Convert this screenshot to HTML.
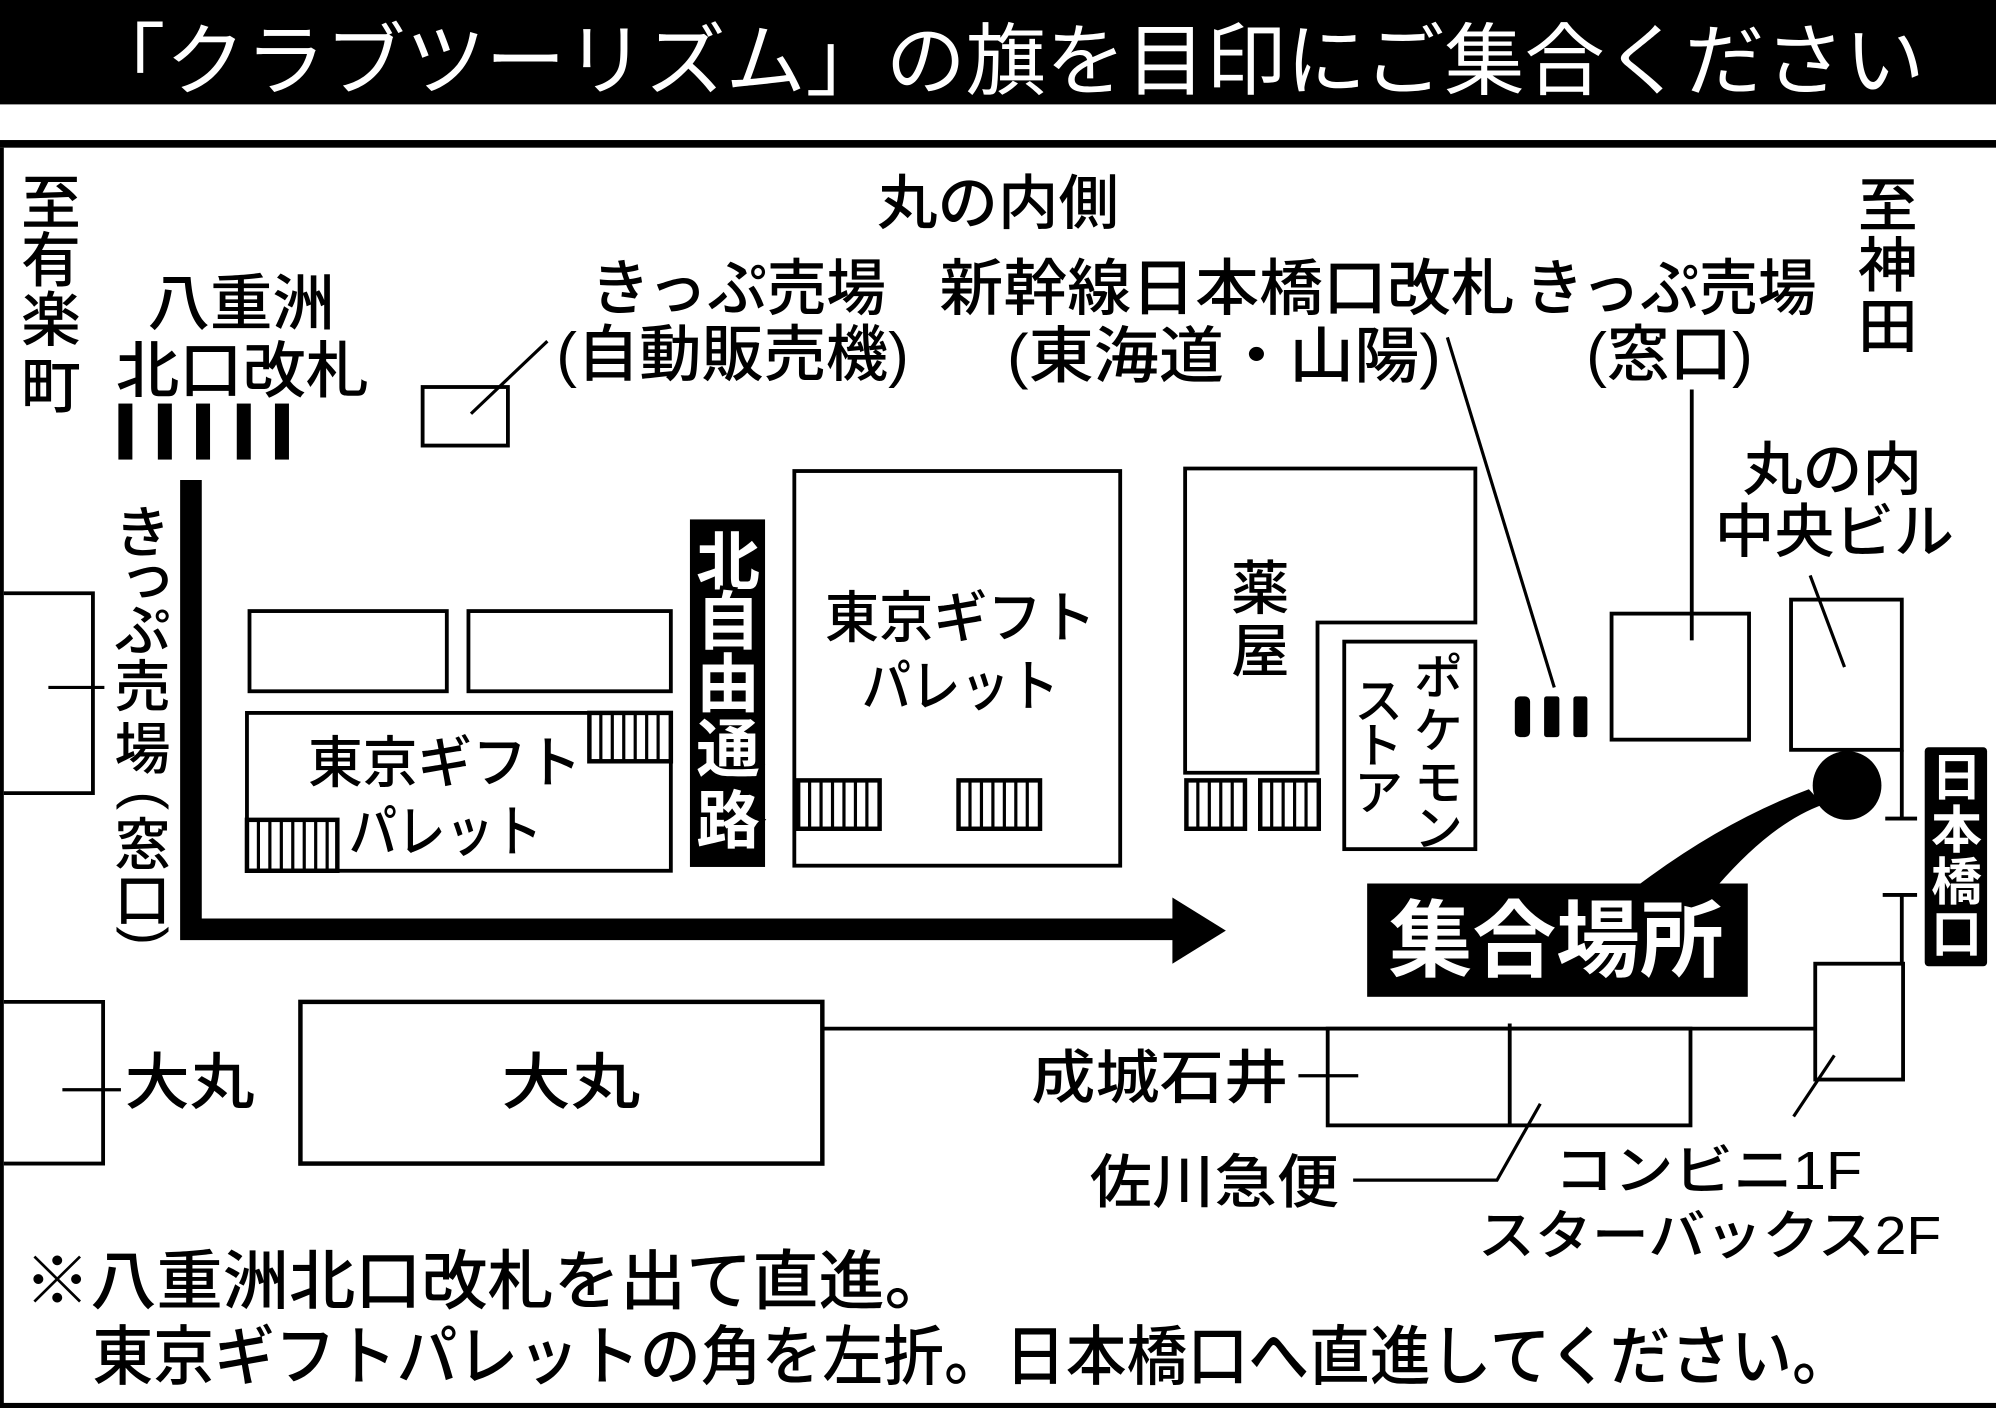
<!DOCTYPE html>
<html><head><meta charset="utf-8">
<style>
html,body{margin:0;padding:0;background:#fff;width:1996px;height:1408px;overflow:hidden}
svg{display:block}
text{font-family:"Liberation Sans","Noto Sans CJK JP",sans-serif;font-weight:500;fill:#000}
</style></head>
<body>
<svg width="1996" height="1408" viewBox="0 0 1568 1106" preserveAspectRatio="none" xmlns="http://www.w3.org/2000/svg">
<rect x="0" y="0" width="1568" height="1106" fill="#fff"/>
<!-- title -->
<rect x="0" y="0" width="1568" height="82" fill="#000"/>
<text x="67" y="69.6" font-size="62" textLength="1445" lengthAdjust="spacingAndGlyphs" style="fill:#fff;font-weight:400">「クラブツーリズム」の旗を目印にご集合ください</text>
<rect x="0" y="110" width="1568" height="6" fill="#000"/>
<!-- frame -->
<rect x="0" y="116" width="3" height="990" fill="#000"/>
<rect x="0" y="1102" width="1568" height="4" fill="#000"/>

<g stroke="#000" stroke-width="3" fill="none">
  <!-- left boxes -->
  <path d="M3,466 H73 V623 H3"/>
  <line x1="38" y1="540" x2="82" y2="540" stroke-width="2.5"/>
  <path d="M3,787 H81 V914 H3"/>
  <line x1="49" y1="856" x2="95" y2="856" stroke-width="2.5"/>
  <!-- ticket machine -->
  <rect x="332" y="304" width="67" height="46"/>
  <line x1="370" y1="325" x2="430" y2="268" stroke-width="2.5"/>
  <!-- small boxes -->
  <rect x="196" y="480" width="155" height="63"/>
  <rect x="368" y="480" width="159" height="63"/>
  <!-- small TGP -->
  <rect x="194" y="560" width="333" height="124"/>
  <!-- big TGP -->
  <rect x="624" y="370" width="256" height="310"/>
  <!-- drugstore -->
  <path d="M931,368 H1159 V489 H1035 V607 H931 Z"/>
  <!-- pokemon -->
  <rect x="1056" y="504" width="103" height="163"/>
  <!-- right leaders & boxes -->
  <line x1="1137" y1="265" x2="1221" y2="540" stroke-width="2.5"/>
  <line x1="1329" y1="306" x2="1329" y2="503" stroke-width="3"/>
  <rect x="1266" y="482" width="108" height="99"/>
  <line x1="1422" y1="452" x2="1449" y2="524" stroke-width="2.5"/>
  <rect x="1407" y="471" width="87" height="118"/>
  <line x1="1494" y1="589" x2="1494" y2="643"/>
  <line x1="1481" y1="643" x2="1506" y2="643"/>
  <line x1="1479" y1="703" x2="1506" y2="703"/>
  <line x1="1494" y1="703" x2="1494" y2="757"/>
  <rect x="1426" y="757" width="69" height="91"/>
  <!-- Daimaru -->
  <rect x="236" y="787" width="410" height="127" stroke-width="3.5"/>
  <line x1="646" y1="808" x2="1427" y2="808"/>
  <rect x="1043" y="808" width="285" height="76"/>
  <line x1="1186" y1="804" x2="1186" y2="884"/>
  <line x1="1020" y1="845" x2="1067" y2="845" stroke-width="2.5"/>
  <polyline points="1063,927 1176,927 1210,867" stroke-width="2.5"/>
  <line x1="1441" y1="829" x2="1409" y2="877" stroke-width="2.5"/>
</g>

<!-- hatched boxes -->
<g stroke="#000" fill="none">
  <rect x="463" y="560" width="64" height="38" stroke-width="3.5"/>
  <path d="M472,560V598M481,560V598M490,560V598M499,560V598M508,560V598M517,560V598" stroke-width="2.5"/>
  <rect x="194" y="644" width="71" height="40" stroke-width="3.5"/>
  <path d="M203,644V684M212,644V684M221,644V684M230,644V684M239,644V684M248,644V684M257,644V684" stroke-width="2.5"/>
  <rect x="627" y="613" width="64" height="38" stroke-width="3.5"/>
  <path d="M636,613V651M645,613V651M654,613V651M663,613V651M672,613V651M681,613V651" stroke-width="2.5"/>
  <rect x="753" y="613" width="64" height="38" stroke-width="3.5"/>
  <path d="M762,613V651M771,613V651M780,613V651M789,613V651M798,613V651M807,613V651" stroke-width="2.5"/>
  <rect x="932" y="613" width="46" height="38" stroke-width="3.5"/>
  <path d="M941,613V651M950,613V651M959,613V651M968,613V651" stroke-width="2.5"/>
  <rect x="990" y="613" width="46" height="38" stroke-width="3.5"/>
  <path d="M999,613V651M1008,613V651M1017,613V651M1026,613V651" stroke-width="2.5"/>
</g>

<!-- gate bars -->
<g fill="#000">
  <rect x="93" y="317" width="11" height="44"/>
  <rect x="124" y="317" width="11" height="44"/>
  <rect x="154" y="317" width="11" height="44"/>
  <rect x="186" y="317" width="11" height="44"/>
  <rect x="216" y="317" width="11" height="44"/>
  <rect x="1190" y="547" width="12" height="32" rx="4"/>
  <rect x="1213" y="547" width="12" height="32" rx="2"/>
  <rect x="1236" y="547" width="11" height="32" rx="2"/>
</g>

<!-- thick route arrow -->
<polyline points="150,377 150,730 925,730" fill="none" stroke="#000" stroke-width="17" stroke-linejoin="miter"/>
<polygon points="921,705 963,731 921,757" fill="#000"/>

<!-- meeting point -->
<circle cx="1451" cy="617" r="27" fill="#000"/>
<path d="M1421,620 Q1353.5,645 1286,696 L1349,696 Q1392.5,646 1432,632 Z" fill="#000"/>
<rect x="1074" y="694" width="299" height="89" fill="#000"/>
<text x="1091" y="762" font-size="66" textLength="263" lengthAdjust="spacingAndGlyphs" style="fill:#fff;font-weight:700">集合場所</text>

<!-- 日本橋口 -->
<rect x="1512" y="587" width="49" height="172" rx="3" fill="#000"/>
<g text-anchor="middle" font-size="40" style="fill:#fff;font-weight:700">
  <text x="1537" y="625" style="fill:#fff;font-weight:700">日</text>
  <text x="1537" y="666" style="fill:#fff;font-weight:700">本</text>
  <text x="1537" y="707" style="fill:#fff;font-weight:700">橋</text>
  <text x="1537" y="748" style="fill:#fff;font-weight:700">口</text>
</g>

<!-- 北自由通路 -->
<rect x="542" y="408" width="59" height="273" fill="#000"/>
<g text-anchor="middle" font-size="50">
  <text x="572" y="459" stroke="#000" stroke-width="6" paint-order="stroke" style="fill:#fff;font-weight:700">北</text>
  <text x="572" y="506" stroke="#000" stroke-width="6" paint-order="stroke" style="fill:#fff;font-weight:700">自</text>
  <text x="572" y="555" stroke="#000" stroke-width="6" paint-order="stroke" style="fill:#fff;font-weight:700">由</text>
  <text x="572" y="606" stroke="#000" stroke-width="6" paint-order="stroke" style="fill:#fff;font-weight:700">通</text>
  <text x="572" y="662" stroke="#000" stroke-width="6" paint-order="stroke" style="fill:#fff;font-weight:700">路</text>
</g>

<!-- vertical labels -->
<g text-anchor="middle" font-size="47">
  <text x="40" y="176">至</text>
  <text x="40" y="221">有</text>
  <text x="40" y="268">楽</text>
  <text x="40" y="320">町</text>
  <text x="1483" y="178">至</text>
  <text x="1483" y="225">神</text>
  <text x="1483" y="273">田</text>
</g>
<g text-anchor="middle" font-size="44">
  <text x="112" y="434">き</text>
  <text x="116" y="468">っ</text>
  <text x="112" y="511">ぷ</text>
  <text x="112" y="555">売</text>
  <text x="112" y="604">場</text>
  <text x="112" y="640.4" transform="rotate(90 112 629)">(</text>
  <text x="112" y="679">窓</text>
  <text x="112" y="723">口</text>
  <text x="112" y="746.4" transform="rotate(90 112 735)">)</text>
</g>
<g text-anchor="middle" font-size="46">
  <text x="990" y="478.5">薬</text>
  <text x="990" y="527.5">屋</text>
</g>
<g text-anchor="middle" font-size="38">
  <text x="1130" y="545">ポ</text>
  <text x="1130" y="587">ケ</text>
  <text x="1130" y="628">モ</text>
  <text x="1130" y="664">ン</text>
  <text x="1083" y="564">ス</text>
  <text x="1083" y="599">ト</text>
  <text x="1083" y="636">ア</text>
</g>

<!-- horizontal labels -->
<g lengthAdjust="spacingAndGlyphs">
  <text x="689" y="176" font-size="47" textLength="190" lengthAdjust="spacingAndGlyphs">丸の内側</text>
  <text x="116" y="255" font-size="48" textLength="147" lengthAdjust="spacingAndGlyphs">八重洲</text>
  <text x="91" y="308" font-size="48" textLength="199" lengthAdjust="spacingAndGlyphs">北口改札</text>
  <text x="464" y="243" font-size="48" textLength="232" lengthAdjust="spacingAndGlyphs">きっぷ売場</text>
  <text x="437" y="295" font-size="48" textLength="277" lengthAdjust="spacingAndGlyphs">(自動販売機)</text>
  <text x="738" y="243" font-size="48" textLength="452" lengthAdjust="spacingAndGlyphs">新幹線日本橋口改札</text>
  <text x="1198" y="243" font-size="48" textLength="229" lengthAdjust="spacingAndGlyphs">きっぷ売場</text>
  <text x="791" y="296" font-size="48" textLength="341" lengthAdjust="spacingAndGlyphs">(東海道・山陽)</text>
  <text x="1246" y="295" font-size="48" textLength="131" lengthAdjust="spacingAndGlyphs">(窓口)</text>
  <text x="1369" y="385" font-size="46" textLength="141" lengthAdjust="spacingAndGlyphs">丸の内</text>
  <text x="1347" y="433.5" font-size="46" textLength="188" lengthAdjust="spacingAndGlyphs">中央ビル</text>
  <text x="242" y="614.7" font-size="44" textLength="215" lengthAdjust="spacingAndGlyphs">東京ギフト</text>
  <text x="274" y="668.7" font-size="44" textLength="152" lengthAdjust="spacingAndGlyphs">パレット</text>
  <text x="648" y="500.7" font-size="44" textLength="213" lengthAdjust="spacingAndGlyphs">東京ギフト</text>
  <text x="677" y="554.7" font-size="44" textLength="155" lengthAdjust="spacingAndGlyphs">パレット</text>
  <text x="98" y="867" font-size="48" textLength="102" lengthAdjust="spacingAndGlyphs">大丸</text>
  <text x="394" y="867" font-size="48" textLength="109" lengthAdjust="spacingAndGlyphs">大丸</text>
  <text x="810" y="862.5" font-size="46" textLength="202" lengthAdjust="spacingAndGlyphs">成城石井</text>
  <text x="856" y="944.5" font-size="46" textLength="196" lengthAdjust="spacingAndGlyphs">佐川急便</text>
  <text x="1221" y="934" font-size="42" textLength="242" lengthAdjust="spacingAndGlyphs">コンビニ1F</text>
  <text x="1161" y="985" font-size="42" textLength="364" lengthAdjust="spacingAndGlyphs">スターバックス2F</text>
  <text x="19" y="1024" font-size="51" textLength="728" lengthAdjust="spacingAndGlyphs">※八重洲北口改札を出て直進。</text>
  <text x="72.6" y="1083.4" font-size="51" textLength="1383" lengthAdjust="spacingAndGlyphs">東京ギフトパレットの角を左折。日本橋口へ直進してください。</text>
</g>
</svg>
</body></html>
